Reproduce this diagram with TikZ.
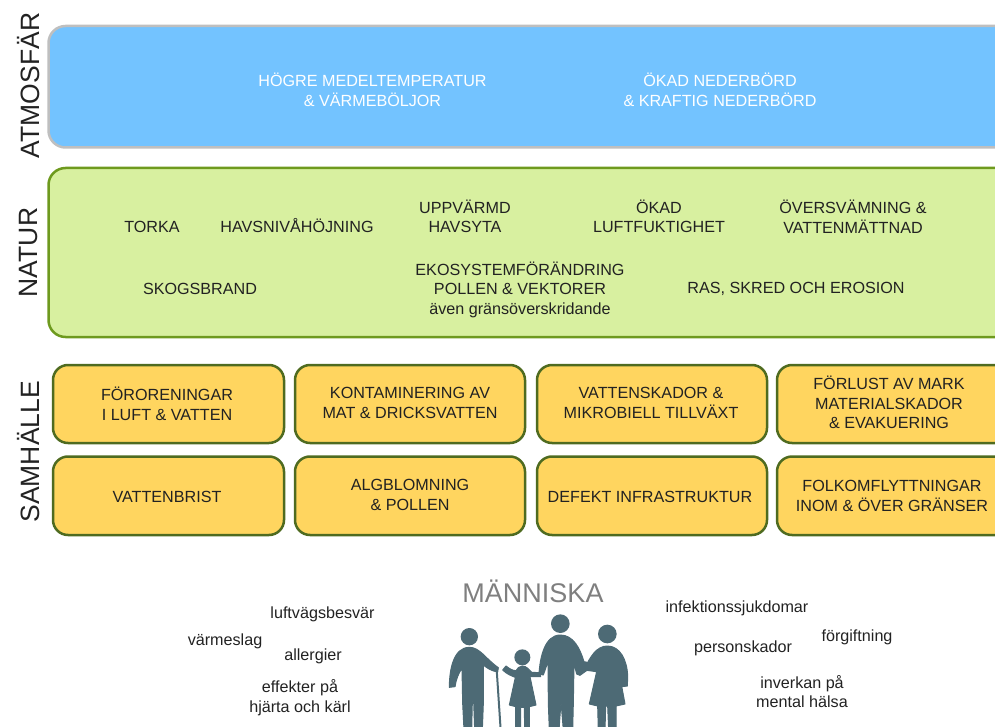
\documentclass[tikz,border=0pt]{standalone}
\usepackage{fontspec}
\setmainfont{Liberation Sans}
\definecolor{skyfill}{HTML}{73C3FF}
\definecolor{skyedge}{HTML}{BFBFBF}
\definecolor{leaffill}{HTML}{D8F0A0}
\definecolor{leafedge}{HTML}{6E9A1E}
\definecolor{sunfill}{HTML}{FFD55F}
\definecolor{sunedge}{HTML}{4F6B20}
\definecolor{txt}{HTML}{222222}
\definecolor{fig}{HTML}{4D6A75}
\definecolor{ttl}{HTML}{7F7F7F}
\tikzset{
  lbl/.style={inner sep=0pt,align=center,text=txt,font=\fontsize{16.15}{19.5}\selectfont},
  wlbl/.style={lbl,text=white},
  side/.style={inner sep=0pt,rotate=90,text=txt,font=\fontsize{26.5}{30}\selectfont},
  band/.style={draw,line width=2.5pt,rounded corners=17pt},
  cell/.style={draw=sunedge,fill=sunfill,line width=2.5pt,rounded corners=15pt},
  person/.style={fill=fig,draw=fig,line width=1pt,line join=round}
}
\begin{document}
\begin{tikzpicture}[x=1pt,y=-1pt]
\useasboundingbox (0,0) rectangle (995,727);
\clip (0,0) rectangle (995,727);
\draw[band,draw=skyedge,fill=skyfill] (48.5,26) rectangle (1020,147.5);
\draw[band,draw=leafedge,fill=leaffill] (48.5,168) rectangle (1020,337);
\foreach \xa/\xb in {53/284,295/525,537/767,777/1020}{
  \draw[cell] (\xa,365) rectangle (\xb,443);
  \draw[cell] (\xa,456.5) rectangle (\xb,535);
}
\node[side] (atm) at (28.5,85.5) {ATMOSFÄR};
\node[side] (nat) at (28.5,252.5) {NATUR};
\node[side] (sam) at (28.5,451.8) {SAMHÄLLE};
\node[wlbl] (a1) at (372.5,89.7) {HÖGRE MEDELTEMPERATUR\\\& VÄRMEBÖLJOR};
\node[wlbl] (a2) at (720,89.7) {ÖKAD NEDERBÖRD\\\& KRAFTIG NEDERBÖRD};
\node[lbl] (n1) at (152,226.5) {TORKA};
\node[lbl] (n2) at (297,225.5) {HAVSNIVÅHÖJNING};
\node[lbl] (n3) at (465,216.5) {UPPVÄRMD\\HAVSYTA};
\node[lbl] (n4) at (659,216.5) {ÖKAD\\LUFTFUKTIGHET};
\node[lbl] (n5) at (853,216.5) {ÖVERSVÄMNING \&\\VATTENMÄTTNAD};
\node[lbl] (n6) at (200,289) {SKOGSBRAND};
\node[lbl] (n7) at (520,289.5) {EKOSYSTEMFÖRÄNDRING\\POLLEN \& VEKTORER\\även gränsöverskridande};
\node[lbl] (n8) at (796,288.5) {RAS, SKRED OCH EROSION};
\node[lbl] (s1) at (167,403.7) {FÖRORENINGAR\\I LUFT \& VATTEN};
\node[lbl] (s2) at (410,403) {KONTAMINERING AV\\MAT \& DRICKSVATTEN};
\node[lbl] (s3) at (651,403) {VATTENSKADOR \&\\MIKROBIELL TILLVÄXT};
\node[lbl] (s4) at (889,402.5) {FÖRLUST AV MARK\\MATERIALSKADOR\\\& EVAKUERING};
\node[lbl] (s5) at (167,497) {VATTENBRIST};
\node[lbl] (s6) at (410,495) {ALGBLOMNING\\\& POLLEN};
\node[lbl] (s7) at (650,496.5) {DEFEKT INFRASTRUKTUR};
\node[lbl] (s8) at (892,496) {FOLKOMFLYTTNINGAR\\INOM \& ÖVER GRÄNSER};
\node[inner sep=0pt,text=ttl,font=\fontsize{27}{30}\selectfont] (m) at (533,591) {MÄNNISKA};
\node[lbl] (h1) at (322.5,614) {luftvägsbesvär};
\node[lbl] (h2) at (225,641) {värmeslag};
\node[lbl] (h3) at (313,656) {allergier};
\node[lbl] (h4) at (300,697.5) {effekter på\\hjärta och kärl};
\node[lbl] (h5) at (737,608) {infektionssjukdomar};
\node[lbl] (h6) at (857,637) {förgiftning};
\node[lbl] (h7) at (743,648) {personskador};
\node[lbl] (h8) at (802,691.5) {inverkan på\\mental hälsa};
\begin{scope}[shift={(430,570)},scale=0.33333]
 % grandfather
 \fill[fig] (118,200) circle (26);
 \filldraw[person] (118,232) .. controls (150,232) and (165,265) .. (205,293) -- (203,306) .. controls (185,303) and (172,295) .. (160,285) -- (160,400) -- (157,480) -- (134,480) -- (131,395) -- (127,395) -- (125,480) -- (102,480) -- (98,400) -- (96,295) .. controls (85,310) and (78,330) .. (75,350) -- (58,352) .. controls (58,300) and (70,232) .. (118,232) -- cycle;
 \draw[fig,line width=2pt] (200,298) -- (212,480);
 % child
 \fill[fig] (277,262) circle (24);
 \filldraw[person] (277,288) .. controls (290,288) and (298,300) .. (305,307) -- (330,308) -- (332,320) -- (300,320) -- (318,405) -- (298,410) -- (298,480) -- (284,480) -- (283,412) -- (272,412) -- (272,480) -- (257,480) -- (257,410) -- (238,405) -- (256,322) .. controls (245,318) and (230,312) .. (218,300) -- (228,288) .. controls (238,296) and (248,302) .. (258,302) .. controls (262,295) and (268,288) .. (277,288) -- cycle;
 % father
 \fill[fig] (391,161) circle (28);
 \filldraw[person] (391,195) .. controls (430,195) and (450,235) .. (462,275) -- (497,282) -- (450,316) -- (440,312) -- (432,280) -- (430,400) -- (428,480) -- (400,480) -- (393,395) -- (387,480) -- (358,480) -- (355,400) -- (354,275) -- (340,315) -- (327,312) .. controls (330,260) and (345,195) .. (391,195) -- cycle;
 % mother
 \fill[fig] (532,192) circle (28);
 \filldraw[person] (532,228) .. controls (570,228) and (592,270) .. (593,320) -- (592,348) -- (575,350) -- (566,300) -- (585,402) -- (558,408) -- (558,480) -- (536,480) -- (533,408) -- (527,408) -- (525,480) -- (505,480) -- (503,408) -- (478,402) -- (500,305) -- (462,300) .. controls (480,260) and (500,228) .. (532,228) -- cycle;
\end{scope}
\end{tikzpicture}
\end{document}
